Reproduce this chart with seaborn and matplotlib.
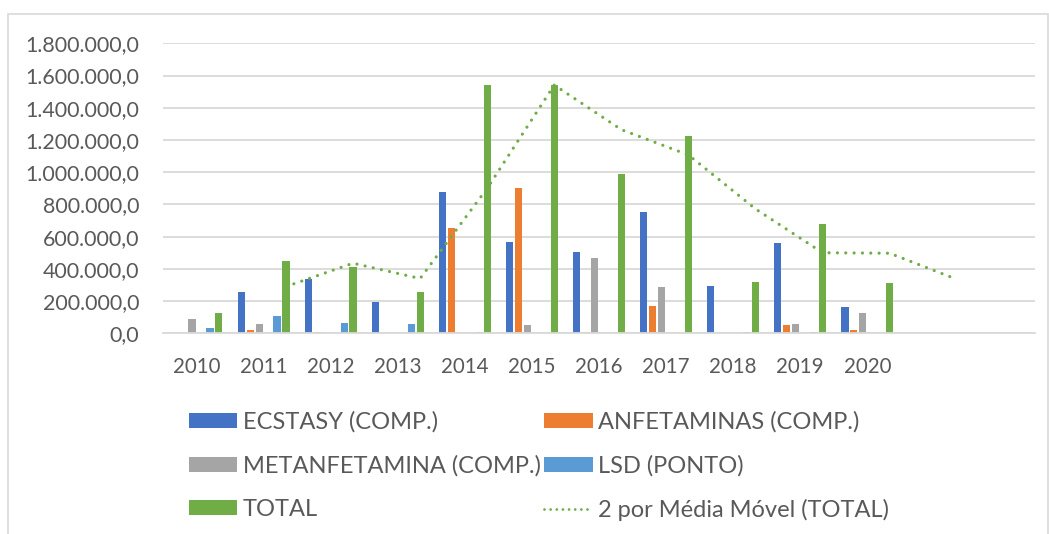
import numpy as np
import pandas as pd
import matplotlib
matplotlib.use("Agg")
import matplotlib.pyplot as plt
from matplotlib.patches import Rectangle, Patch
from matplotlib.lines import Line2D
from matplotlib.ticker import FuncFormatter
import seaborn as sns

# ---- data ----
anos = ["2010", "2011", "2012", "2013", "2014", "2015", "2016", "2017", "2018", "2019", "2020"]
categorias = anos + ["2021", "2022"]          # the chart keeps two empty slots on the right
rotulos_x = anos + ["", ""]

ecstasy = [0, 258000, 337000, 194000, 877000, 569000, 507000, 751000, 292000, 559000, 163000]
anfetaminas = [0, 20000, 8000, 0, 652000, 902000, 5000, 171000, 4000, 50000, 19000]
metanfetamina = [89000, 60000, 0, 0, 0, 50000, 467000, 287000, 0, 58000, 126000]
lsd = [31000, 107000, 64000, 60000, 5000, 4000, 0, 0, 6000, 8000, 0]
total = [124000, 449000, 413000, 256000, 1543000, 1539000, 989000, 1225000, 320000, 680000, 314000]

# 2-period moving average of TOTAL, as drawn (2011 .. 2021)
media_movel = [290000, 435000, 340000, 900000, 1541000, 1264000, 1107000, 772000, 500000, 497000, 335000]

series = {
    "ECSTASY (COMP.)": ecstasy,
    "ANFETAMINAS (COMP.)": anfetaminas,
    "METANFETAMINA (COMP.)": metanfetamina,
    "LSD (PONTO)": lsd,
    "TOTAL": total,
}
# Excel reserved an empty slot between METANFETAMINA and LSD
hue_ordem = ["ECSTASY (COMP.)", "ANFETAMINAS (COMP.)", "METANFETAMINA (COMP.)", "_vazio",
             "LSD (PONTO)", "TOTAL"]
cores = {
    "ECSTASY (COMP.)": "#4472C4",
    "ANFETAMINAS (COMP.)": "#ED7D31",
    "METANFETAMINA (COMP.)": "#A5A5A5",
    "_vazio": "#FFFFFF",
    "LSD (PONTO)": "#5B9BD5",
    "TOTAL": "#70AD47",
}
verde_mm = "#70AD47"
cinza_grade = "#D9D9D9"
cor_texto = "#595959"

df = pd.DataFrame(
    [(ano, nome, v) for nome, vals in series.items() for ano, v in zip(anos, vals)],
    columns=["ano", "serie", "valor"],
)

# ---- style ----
sns.set_theme(style="white")
plt.rcParams["font.family"] = ["Lato", "DejaVu Sans"]

fig = plt.figure(figsize=(10.49, 5.34), dpi=100)
ax = fig.add_axes([163 / 1049, 1 - 333.3 / 534, (1035 - 163) / 1049, (333.3 - 43.3) / 534])

sns.barplot(data=df, x="ano", y="valor", hue="serie", order=categorias, hue_order=hue_ordem,
            palette=cores, saturation=1, width=0.8, gap=0.2, dodge=True, linewidth=0,
            legend=False, ax=ax)

# moving average drawn at the TOTAL bar positions (last container = TOTAL)
xs_total = sorted(p.get_x() + p.get_width() / 2 for p in ax.containers[-1])
desloc = xs_total[0] - 0
x_mm = np.arange(1, 1 + len(media_movel)) + desloc
ax.plot(x_mm, media_movel, color=verde_mm, lw=2.3, linestyle=(0, (0.01, 2.6)),
        dash_capstyle="round", zorder=3)

ax.set_xlim(-0.5, len(categorias) - 0.5)
ax.set_ylim(0, 1800000)
ax.set_yticks(np.arange(0, 1800001, 200000))
ax.yaxis.set_major_formatter(FuncFormatter(
    lambda v, _: f"{v:,.1f}".replace(",", "X").replace(".", ",").replace("X", ".")))
ax.set_xticks(range(len(categorias)))
ax.set_xticklabels(rotulos_x)
ax.set_xlabel("")
ax.set_ylabel("")
ax.tick_params(axis="y", length=0, pad=17, labelsize=15.4, labelcolor=cor_texto)
ax.tick_params(axis="x", length=0, pad=17, labelsize=14.8, labelcolor=cor_texto)
ax.yaxis.grid(True, color=cinza_grade, lw=1.3)
ax.set_axisbelow(True)
for s in ["top", "right", "left"]:
    ax.spines[s].set_visible(False)
ax.spines["bottom"].set_color(cinza_grade)
ax.spines["bottom"].set_linewidth(1.3)

# legend (column-major fill -> reorder to read row by row)
h = {nome: Patch(facecolor=cores[nome], edgecolor="none") for nome in series}
h_mm = Line2D([0], [0], color=verde_mm, lw=2.0, linestyle=(0, (0.01, 2.2)), dash_capstyle="round")
ordem = ["ECSTASY (COMP.)", "METANFETAMINA (COMP.)", "TOTAL", "ANFETAMINAS (COMP.)", "LSD (PONTO)"]
handles = [h[n] for n in ordem] + [h_mm]
labels = ordem + ["2 por Média Móvel (TOTAL)"]
fs_leg = 17
fig.legend(handles, labels, ncol=2, loc="upper left", bbox_to_anchor=(189 / 1049, 1 - 411 / 534),
           frameon=False, fontsize=fs_leg, labelcolor=cor_texto, handlelength=2.05, handleheight=0.6,
           handletextpad=0.22, columnspacing=0.15, labelspacing=0.95, borderpad=0, borderaxespad=0)

# chart-area border
fig.patches.append(Rectangle((7.5 / 1049, -0.1), (1048 - 7.5) / 1049, 1.1 - 14.5 / 534,
                             transform=fig.transFigure, fill=False, edgecolor=cinza_grade, lw=1.2))

fig.savefig("out.png", dpi=100)
